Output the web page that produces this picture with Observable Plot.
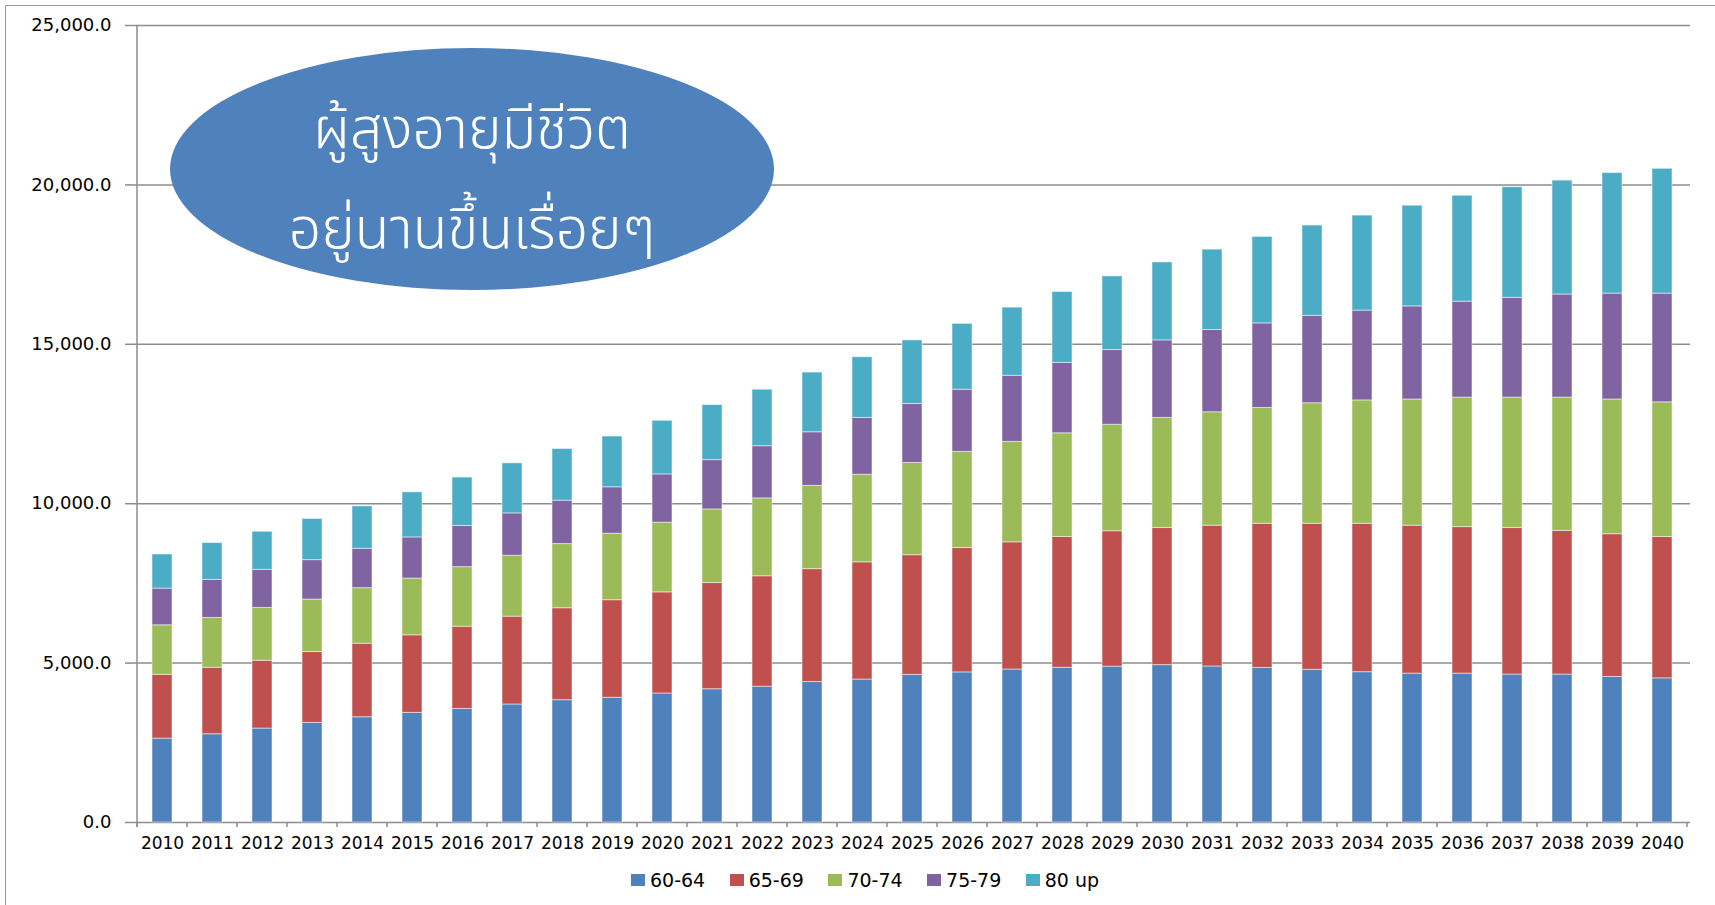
<!DOCTYPE html>
<html>
<head>
<meta charset="utf-8">
<script src="https://cdn.jsdelivr.net/npm/d3@7"></script>
<script src="https://cdn.jsdelivr.net/npm/@observablehq/plot@0.6"></script>
<style>
  body { margin: 0; background: #fff; font-family: "DejaVu Sans", Verdana, sans-serif; }
  #wrap { position: relative; width: 1715px; height: 905px; overflow: hidden; background: #fff; }
  #frame { position: absolute; left: 5px; top: 5px; width: 1720px; height: 910px;
           border-left: 1.5px solid #9a9a9a; border-top: 1.5px solid #9a9a9a; pointer-events: none; }
  #chart { position: absolute; left: 0; top: 0; }
  #legend { position: absolute; left: 631px; top: 869px; display: flex; font-size: 19px; color: #000; }
  .item { display: flex; align-items: center; width: 98.7px; white-space: nowrap; }
  .sw { width: 14px; height: 12px; margin-right: 5px; flex: none; }
</style>
</head>
<body>
<div id="wrap">
  <div id="chart"></div>
  <div id="legend"></div>
  <div id="frame"></div>
</div>
<script>
// ---- data ----
const years = [2010,2011,2012,2013,2014,2015,2016,2017,2018,2019,2020,2021,2022,2023,2024,2025,2026,2027,2028,2029,2030,2031,2032,2033,2034,2035,2036,2037,2038,2039,2040];
const groups = ["60-64", "65-69", "70-74", "75-79", "80 up"];
const age60_64 = [2632,2768,2947,3123,3302,3438,3563,3702,3837,3912,4047,4181,4260,4406,4484,4630,4708,4798,4854,4888,4937,4893,4848,4789,4715,4670,4670,4641,4641,4566,4522];
const age65_69 = [2001,2085,2126,2224,2306,2434,2579,2755,2884,3061,3172,3330,3464,3542,3677,3755,3901,3991,4103,4248,4300,4418,4522,4581,4655,4641,4596,4596,4507,4478,4433];
const age70_74 = [1553,1563,1657,1644,1742,1780,1868,1909,2013,2085,2186,2309,2443,2612,2746,2892,3016,3150,3251,3341,3454,3558,3632,3781,3870,3958,4063,4092,4181,4225,4225];
const age75_79 = [1151,1195,1195,1239,1236,1290,1290,1330,1361,1457,1514,1547,1637,1681,1783,1850,1950,2073,2208,2343,2432,2580,2654,2742,2817,2921,3009,3128,3232,3321,3410];
const age80up  = [1070,1154,1195,1290,1330,1415,1519,1569,1620,1592,1681,1726,1771,1872,1905,1995,2065,2138,2224,2310,2446,2520,2713,2832,2980,3158,3321,3469,3573,3781,3914];
const yTicks = [0, 5000, 10000, 15000, 20000, 25000];
const titleLines = ["ผู้สูงอายุมีชีวิต", "อยู่นานขึ้นเรื่อยๆ"];

// ---- styles ----
const colors = ["#4F81BD", "#C0504D", "#9BBB59", "#8064A2", "#4BACC6"];
const series = [age60_64, age65_69, age70_74, age75_79, age80up];
const bubble = { cx: 472, cy: 169, rx: 302, ry: 121, fill: "#4F81BD", fontSize: 57, line1: 148, line2: 248 };

const table = [];
groups.forEach((g, i) => years.forEach((yr, j) => table.push({ year: yr, group: g, value: series[i][j] })));

const plot = Plot.plot({
  width: 1715,
  height: 862,
  marginLeft: 133,
  marginRight: 25,
  marginTop: 25,
  marginBottom: 40,
  style: { fontFamily: '"DejaVu Sans", Verdana, sans-serif', color: "#000", background: "transparent", overflow: "visible" },
  x: { type: "band", domain: years, paddingInner: 0.6, paddingOuter: 0.3, align: 0.5, label: null },
  y: { domain: [0, 25000], label: null },
  color: { domain: groups, range: colors },
  marks: [
    Plot.gridY(yTicks, { stroke: "#8c8c8c", strokeOpacity: 1, strokeWidth: 1.5 }),
    Plot.barY(table, { x: "year", y: "value", fill: "group", stroke: "#ffffff", strokeOpacity: 0.5, strokeWidth: 1 }),
    Plot.axisY(yTicks, { tickFormat: d3.format(",.1f"), tickSize: 8, tickPadding: 14, fontSize: 18, stroke: "#8c8c8c", strokeWidth: 1.5, label: null }),
    Plot.axisX({ tickSize: 0, tickPadding: 14, fontSize: 17, tickFormat: d => String(d), label: null })
  ]
});
document.getElementById("chart").appendChild(plot);

// axis lines and between-category tick marks (from the plot's own scales)
const xs = plot.scale("x");
const ys = plot.scale("y");
const svg = d3.select(plot);
const y0 = ys.apply(0), yTop = ys.apply(25000);
const step = xs.apply(years[1]) - xs.apply(years[0]);
const bounds = years.map(yr => xs.apply(yr) + xs.bandwidth / 2 - step / 2);
bounds.push(bounds[bounds.length - 1] + step);
const g = svg.append("g").attr("stroke", "#8c8c8c").attr("stroke-width", 1.5);
g.append("line").attr("x1", bounds[0]).attr("x2", bounds[0]).attr("y1", yTop).attr("y2", y0 + 5);
bounds.forEach(b => g.append("line").attr("x1", b).attr("x2", b).attr("y1", y0).attr("y2", y0 + 5));

// annotation bubble
const ann = svg.append("g");
ann.append("ellipse").attr("cx", bubble.cx).attr("cy", bubble.cy).attr("rx", bubble.rx).attr("ry", bubble.ry).attr("fill", bubble.fill);
[bubble.line1, bubble.line2].forEach((by, i) => {
  ann.append("text").attr("x", bubble.cx).attr("y", by).attr("text-anchor", "middle")
    .attr("fill", "#fff").attr("font-size", bubble.fontSize).attr("font-weight", 300)
    .attr("font-family", '"Noto Sans Thai", "Noto Sans Thai Looped", "Noto Sans", sans-serif')
    .text(titleLines[i]);
});

// legend
const legend = document.getElementById("legend");
groups.forEach((grp, i) => {
  const it = document.createElement("div");
  it.className = "item";
  it.innerHTML = `<span class="sw" style="background:${colors[i]}"></span><span>${grp}</span>`;
  legend.appendChild(it);
});
</script>
</body>
</html>
